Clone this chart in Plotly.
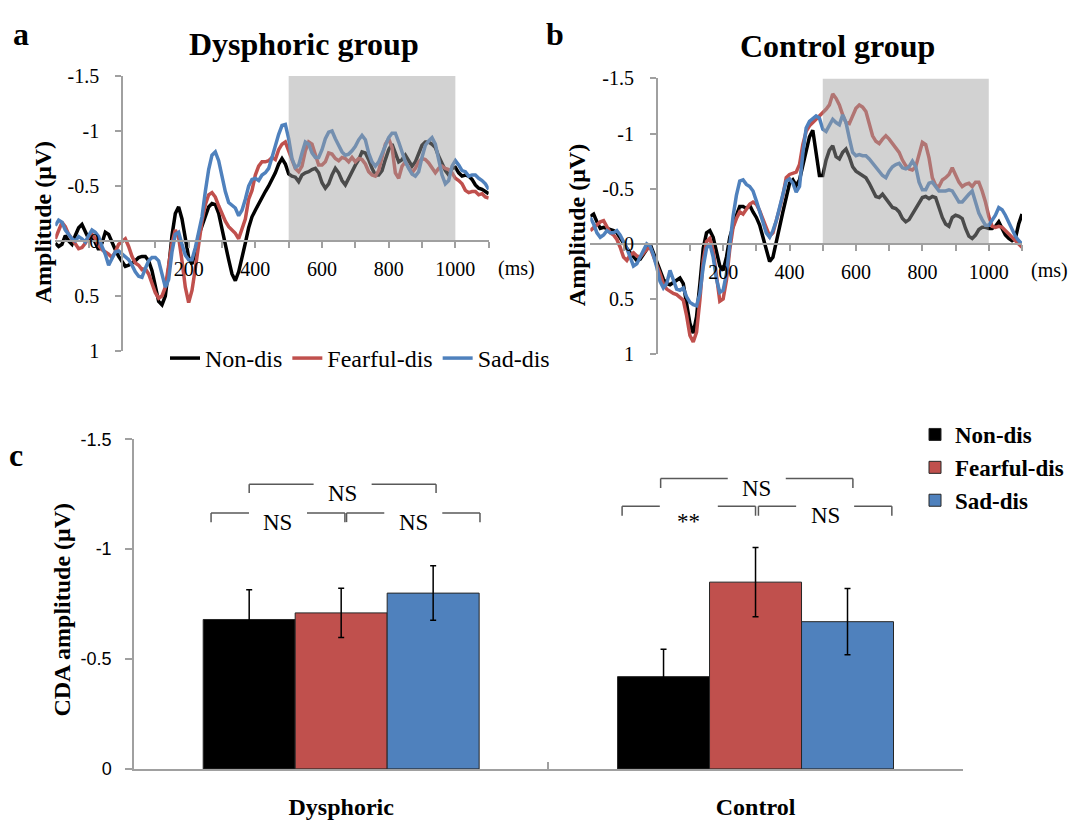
import plotly.graph_objects as go

# ---------------- data ----------------
time_ms = list(range(-200, 1101, 10))

# Panel a: Dysphoric group (amplitude, µV)
dys_non = [
    0.02, 0.05, 0.03, -0.05, 0.0, 0.03, -0.05, -0.12, -0.15, -0.08,
    -0.02, -0.05, 0.02, 0.08, 0.02, -0.08, -0.06, 0.02, 0.08, 0.14,
    0.18, 0.23, 0.22, 0.2, 0.18, 0.15, 0.14, 0.14, 0.18, 0.27,
    0.4, 0.55, 0.58, 0.5, 0.25, -0.05, -0.25, -0.31, -0.2, -0.02,
    0.15, 0.21, 0.1, -0.05, -0.14, -0.24, -0.31, -0.34, -0.33, -0.25,
    -0.1, 0.04, 0.17, 0.3, 0.36, 0.28, 0.16, 0.02, -0.12, -0.22,
    -0.28, -0.34, -0.4, -0.45, -0.5, -0.56, -0.62, -0.7, -0.75, -0.7,
    -0.61, -0.59, -0.58, -0.54, -0.6, -0.62, -0.63, -0.65, -0.66, -0.62,
    -0.53, -0.48, -0.52, -0.6, -0.66, -0.62, -0.55, -0.51, -0.57, -0.64,
    -0.69, -0.74, -0.81, -0.8, -0.74, -0.66, -0.6, -0.6, -0.64, -0.74,
    -0.83, -0.88, -0.8, -0.72, -0.74, -0.78, -0.73, -0.68, -0.72, -0.8,
    -0.87, -0.9, -0.9, -0.88, -0.85, -0.77, -0.7, -0.64, -0.6, -0.66,
    -0.67, -0.62, -0.59, -0.6, -0.59, -0.56, -0.51, -0.48, -0.47, -0.45,
    -0.43]
dys_fear = [
    -0.02, -0.1, -0.17, -0.13, -0.06, -0.02, 0.03, 0.07, 0.06, 0.02,
    -0.04, -0.06, -0.02, 0.04, 0.08, 0.1, 0.12, 0.15, 0.1, 0.03,
    0.0, -0.02, 0.05, 0.14, 0.2, 0.22, 0.26, 0.25, 0.3, 0.38,
    0.47, 0.52, 0.5, 0.42, 0.22, 0.02, -0.1, -0.03, 0.18, 0.42,
    0.56, 0.45, 0.25, 0.02, -0.18, -0.33, -0.42, -0.44, -0.4, -0.32,
    -0.25, -0.18, -0.13, -0.1, -0.07, -0.02, -0.1, -0.2, -0.38, -0.46,
    -0.6, -0.68, -0.72, -0.72, -0.73, -0.76, -0.74, -0.83, -0.88, -0.9,
    -0.82, -0.74, -0.66, -0.63, -0.68, -0.82, -0.9, -0.88, -0.78, -0.69,
    -0.69, -0.72, -0.8, -0.79, -0.75, -0.73, -0.76, -0.75, -0.72, -0.76,
    -0.72, -0.75, -0.74, -0.7, -0.63, -0.6, -0.59, -0.64, -0.76, -0.88,
    -0.93, -0.85, -0.62, -0.57, -0.68, -0.72, -0.67, -0.62, -0.66, -0.72,
    -0.75, -0.74, -0.71, -0.67, -0.62, -0.66, -0.68, -0.66, -0.65, -0.62,
    -0.57, -0.55, -0.52, -0.46, -0.44, -0.45, -0.45, -0.42, -0.43, -0.4,
    -0.39]
dys_sad = [
    -0.14, -0.19, -0.17, -0.1, -0.06, -0.02, 0.0, -0.04, -0.02, 0.01,
    -0.05, -0.1, -0.08, -0.04, 0.05, 0.12, 0.22, 0.15, 0.1, 0.09,
    0.12, 0.15, 0.17, 0.22, 0.28, 0.32, 0.33, 0.25, 0.18, 0.15,
    0.15, 0.18, 0.3, 0.42, 0.35, 0.1, -0.06, -0.08, 0.03, 0.13,
    0.17, 0.17, 0.06, -0.08, -0.22, -0.45, -0.65, -0.78, -0.81, -0.73,
    -0.58, -0.45, -0.35, -0.32, -0.3, -0.23, -0.28, -0.38, -0.5, -0.56,
    -0.57, -0.55, -0.6, -0.62, -0.66, -0.76, -0.88, -0.97, -1.05, -1.06,
    -0.93, -0.75, -0.67, -0.69, -0.8, -0.9, -0.88, -0.8, -0.76, -0.76,
    -0.83, -0.93, -0.99, -1.0, -0.93, -0.87, -0.81, -0.78, -0.79, -0.82,
    -0.86, -0.92, -0.96, -0.92, -0.8, -0.72, -0.68, -0.72, -0.8, -0.86,
    -0.94, -0.98, -0.98, -0.9, -0.8, -0.72, -0.66, -0.61, -0.59, -0.63,
    -0.76, -0.87, -0.91, -0.94, -0.88, -0.75, -0.6, -0.52, -0.55, -0.68,
    -0.73, -0.69, -0.64, -0.63, -0.59, -0.6, -0.6, -0.57, -0.55, -0.52,
    -0.47]

# Panel b: Control group (amplitude, µV)
ctl_non = [
    -0.25, -0.27, -0.2, -0.14, -0.15, -0.14, -0.13, -0.12, -0.1, -0.05,
    0.0, 0.04, 0.08, 0.12, 0.15, 0.14, 0.1, 0.05, 0.0, 0.08,
    0.17, 0.24, 0.32, 0.36, 0.37, 0.35, 0.33, 0.31, 0.36, 0.52,
    0.72, 0.81, 0.66, 0.36, 0.04, -0.1, -0.12, -0.06, 0.06, 0.2,
    0.24, 0.12, -0.06, -0.17, -0.26, -0.34, -0.34, -0.32, -0.35, -0.29,
    -0.24, -0.17, -0.06, 0.08, 0.16, 0.12, -0.03, -0.16, -0.29, -0.42,
    -0.55, -0.58, -0.53, -0.58, -0.7, -0.85, -0.97, -1.03, -0.8, -0.62,
    -0.62, -0.76, -0.85, -0.89, -0.79, -0.77, -0.83, -0.86, -0.79, -0.7,
    -0.66, -0.64, -0.62, -0.6, -0.55, -0.48, -0.43, -0.42, -0.45, -0.41,
    -0.37, -0.33, -0.32, -0.29, -0.23, -0.2, -0.22, -0.27, -0.31, -0.36,
    -0.42, -0.43, -0.41, -0.43, -0.42, -0.33, -0.24, -0.18, -0.16, -0.24,
    -0.26, -0.25, -0.23, -0.14, -0.07, -0.05, -0.08, -0.13, -0.15, -0.15,
    -0.14, -0.14, -0.16, -0.2, -0.14, -0.08, -0.05, -0.03, -0.05, -0.18,
    -0.27]
ctl_fear = [
    -0.12, -0.15, -0.18, -0.2, -0.21, -0.15, -0.1, -0.08, -0.04, 0.03,
    0.12, 0.15, 0.1, 0.08, 0.11, 0.12, 0.08, 0.05, 0.03, 0.1,
    0.19, 0.27, 0.36, 0.41, 0.43, 0.45, 0.46, 0.49, 0.51, 0.65,
    0.83, 0.89, 0.8, 0.51, 0.15, -0.02, -0.05, 0.06, 0.3, 0.52,
    0.5, 0.33, 0.05, -0.15, -0.23, -0.29, -0.27, -0.32, -0.36, -0.38,
    -0.36, -0.3, -0.22, -0.14, -0.07, -0.1, -0.2, -0.32, -0.44, -0.6,
    -0.63, -0.64, -0.65, -0.72, -0.9, -1.02, -1.07, -1.1, -1.13, -1.15,
    -1.19, -1.22, -1.26, -1.36, -1.32, -1.26, -1.17, -1.1, -1.09, -1.16,
    -1.23, -1.26, -1.24, -1.2, -1.08, -0.98, -0.93, -0.91, -0.95, -0.98,
    -0.95, -0.91, -0.88, -0.83, -0.76, -0.71, -0.68, -0.67, -0.7, -0.8,
    -0.92, -0.9, -0.78, -0.6, -0.53, -0.52, -0.58, -0.6, -0.63, -0.69,
    -0.62, -0.56, -0.52, -0.54, -0.55, -0.52, -0.56, -0.56, -0.48, -0.38,
    -0.25, -0.16, -0.15, -0.16, -0.15, -0.12, -0.09, -0.06, -0.02, 0.01,
    0.03]
ctl_sad = [
    -0.24, -0.18, -0.1, -0.06, -0.08, -0.12, -0.1, -0.1, -0.12, -0.08,
    -0.02, 0.04, 0.12, 0.2, 0.18, 0.12, 0.06, 0.0, 0.02, 0.1,
    0.21, 0.34, 0.4, 0.36, 0.24, 0.33, 0.41, 0.42, 0.4, 0.48,
    0.53, 0.55, 0.56, 0.45, 0.21, 0.04, 0.0, 0.12, 0.32, 0.44,
    0.42, 0.27, 0.0, -0.25, -0.44, -0.57, -0.58, -0.54, -0.52, -0.48,
    -0.39, -0.3, -0.2, -0.1, -0.06, -0.12, -0.21, -0.32, -0.45, -0.57,
    -0.59, -0.55, -0.47, -0.52, -0.82, -1.05, -1.11, -1.14, -1.16, -1.14,
    -1.04, -1.02, -1.08, -1.13, -1.1, -1.08, -1.17, -1.1, -0.96, -0.83,
    -0.8, -0.81, -0.8, -0.8, -0.77, -0.73, -0.69, -0.65, -0.62, -0.6,
    -0.66, -0.7, -0.72, -0.73, -0.69, -0.68, -0.7, -0.75, -0.7, -0.56,
    -0.49, -0.49, -0.55, -0.56, -0.52, -0.48, -0.48, -0.48, -0.49, -0.48,
    -0.43, -0.38, -0.38, -0.42, -0.45, -0.48, -0.38, -0.28, -0.22, -0.17,
    -0.17, -0.21, -0.26, -0.33, -0.31, -0.26, -0.2, -0.13, -0.07, -0.03,
    0.0]

conditions = ["Non-dis", "Fearful-dis", "Sad-dis"]
groups = ["Dysphoric", "Control"]
cda_non = [-0.68, -0.42]
cda_fear = [-0.71, -0.85]
cda_sad = [-0.80, -0.67]
sem_non = [0.135, 0.125]
sem_fear = [0.112, 0.157]
sem_sad = [0.124, 0.151]

x_tick_vals = list(range(-100, 1101, 100))
x_tick_labels = ["", "", "", "200", "", "400", "", "600", "", "800", "", "1000", ""]
erp_y_vals = [-1.5, -1, -0.5, 0, 0.5, 1]
erp_y_labels = ["-1.5", "-1", "-0.5", "0", "0.5", "1"]
cda_y_vals = [0, -0.5, -1, -1.5]
cda_y_labels = ["0", "-0.5", "-1", "-1.5"]

# ---------------- styling ----------------
W, H = 1072, 825
SERIF = "Liberation Serif"
SANS = "Liberation Sans"
COLORS = ["#000000", "#C0504D", "#4F81BD"]
AXC = "#a0a0a0"
SHADE_WINDOW = (500, 1000)


def pxx(x):
    return x / W


def pxy(y):
    return 1 - y / H


fig = go.Figure()

# ERP waveforms
for series, name, col in zip([dys_non, dys_fear, dys_sad], conditions, COLORS):
    fig.add_trace(go.Scatter(x=time_ms, y=series, mode="lines", name=name,
                             line=dict(color=col, width=3.5),
                             xaxis="x", yaxis="y", legend="legend"))
for series, name, col in zip([ctl_non, ctl_fear, ctl_sad], conditions, COLORS):
    fig.add_trace(go.Scatter(x=time_ms, y=series, mode="lines", name=name,
                             line=dict(color=col, width=3.5), showlegend=False,
                             xaxis="x2", yaxis="y2"))

# CDA bars
for vals, errs, name, col in zip([cda_non, cda_fear, cda_sad],
                                 [sem_non, sem_fear, sem_sad], conditions, COLORS):
    fig.add_trace(go.Bar(x=groups, y=vals, name=name,
                         marker=dict(color=col, line=dict(color="#262626", width=1)),
                         error_y=dict(type="data", array=errs, symmetric=True,
                                      color="black", thickness=1.5, width=3),
                         xaxis="x3", yaxis="y3", legend="legend2"))

tickfont_erp = dict(family=SERIF, size=20, color="black")


def erp_xaxis(x0, x1, ypos):
    return dict(domain=[pxx(x0), pxx(x1)], range=[-200, 1100], anchor="free",
                position=pxy(ypos), showline=True, linecolor=AXC, linewidth=1.5,
                ticks="outside", ticklen=6, tickwidth=1.5, tickcolor=AXC,
                tickvals=x_tick_vals, ticktext=x_tick_labels, tickfont=tickfont_erp,
                ticklabelstandoff=4, showgrid=False, zeroline=False, fixedrange=True)


def erp_yaxis(ytop, ybot, xpos):
    return dict(domain=[pxy(ybot), pxy(ytop)], range=[1, -1.5], anchor="free",
                position=pxx(xpos), showline=True, linecolor=AXC, linewidth=1.5,
                ticks="outside", ticklen=6, tickwidth=1.5, tickcolor=AXC,
                tickvals=erp_y_vals, ticktext=erp_y_labels, tickfont=tickfont_erp,
                ticklabelstandoff=12, showgrid=False, zeroline=False, fixedrange=True)


layout = dict(
    width=W, height=H, margin=dict(l=0, r=0, t=0, b=0),
    paper_bgcolor="white", plot_bgcolor="white",
    font=dict(family=SERIF, color="black"),
    barmode="group", bargap=0.334, bargroupgap=0,
    xaxis=erp_xaxis(55.3, 488.7, 236.3),
    yaxis=erp_yaxis(66.8, 349.3, 122.0),
    xaxis2=erp_xaxis(590.3, 1022.0, 239.3),
    yaxis2=erp_yaxis(69.3, 352.6, 656.7),
    xaxis3=dict(domain=[pxx(134), pxx(962.7)], anchor="y3", type="category",
                showline=True, linecolor=AXC, linewidth=1.5, ticks="inside",
                tickson="boundaries", ticklen=7, tickwidth=1.5, tickcolor=AXC,
                tickfont=dict(family=SERIF, size=24, color="black", weight="bold"),
                ticklabelstandoff=16, showgrid=False, zeroline=False),
    yaxis3=dict(domain=[pxy(778.7), pxy(440)], anchor="x3", range=[0, -1.5],
                showline=True, linecolor=AXC, linewidth=1.5, ticks="outside",
                ticklen=7, tickwidth=1.5, tickcolor=AXC, tickvals=cda_y_vals,
                ticktext=cda_y_labels, tickfont=dict(family=SANS, size=18, color="black"),
                ticklabelstandoff=10, showgrid=False, zeroline=False),
    legend=dict(orientation="h", x=pxx(165), y=pxy(357), xanchor="left", yanchor="middle",
                font=dict(family=SERIF, size=24, color="black"),
                bgcolor="rgba(0,0,0,0)", itemwidth=30),
    legend2=dict(x=pxx(915), y=pxy(469), xanchor="left", yanchor="middle",
                 font=dict(family=SERIF, size=23, color="black", weight="bold"),
                 bgcolor="rgba(0,0,0,0)", tracegroupgap=0),
)
fig.update_layout(**layout)

# shaded CDA analysis windows (drawn above the waveforms, semi-transparent)
shapes = []
for xr, yr in [("x", "y"), ("x2", "y2")]:
    shapes.append(dict(type="rect", xref=xr, yref=yr, x0=SHADE_WINDOW[0], x1=SHADE_WINDOW[1],
                       y0=0, y1=-1.5, fillcolor="rgba(160,160,160,0.47)",
                       line=dict(width=0), layer="above"))

# significance brackets: (group index, start offset, end offset, line level, tick end, label)
BRACKETS = [
    (0, -0.222, 0.229, -1.295, -1.255, "NS"),
    (0, -0.314, 0.009, -1.165, -1.123, "NS"),
    (0, 0.013, 0.335, -1.165, -1.123, "NS"),
    (1, -0.229, 0.235, -1.322, -1.278, "NS"),
    (1, -0.322, 0.0, -1.195, -1.152, "**"),
    (1, 0.007, 0.329, -1.195, -1.152, "NS"),
]
GAP = 0.07
BR_LINE = dict(color="#595959", width=1.5)
annotations = []
for g, a0, a1, yl, yt, lab in BRACKETS:
    xa, xb = g + a0, g + a1
    xm = (xa + xb) / 2
    segs = [(xa, yt, xa, yl), (xa, yl, xm - GAP, yl), (xm + GAP, yl, xb, yl), (xb, yl, xb, yt)]
    for x0, y0, x1, y1 in segs:
        shapes.append(dict(type="line", xref="x3", yref="y3", x0=x0, y0=y0, x1=x1, y1=y1,
                           line=BR_LINE))
    annotations.append(dict(x=xm, y=(yt + 0.025 if lab == "**" else yt), xref="x3", yref="y3",
                            text=lab, showarrow=False, xanchor="center", yanchor="middle",
                            font=dict(family=SERIF, size=23, color="black")))


def add_text(text, x, y, size, bold=True, angle=0):
    annotations.append(dict(x=pxx(x), y=pxy(y), xref="paper", yref="paper",
                            text=f"<b>{text}</b>" if bold else text, showarrow=False,
                            xanchor="center", yanchor="middle", textangle=angle,
                            font=dict(family=SERIF, size=size, color="black")))


add_text("a", 21, 24, 32)
add_text("b", 555, 24, 32)
add_text("c", 16, 456, 32)
add_text("Dysphoric group", 304, 34, 32)
add_text("Control group", 837, 36, 32)
add_text("Amplitude (μV)", 43, 217, 24, angle=-90)
add_text("Amplitude (μV)", 577, 220, 24, angle=-90)
add_text("CDA amplitude (μV)", 62, 615, 24, angle=-90)
add_text("(ms)", 516, 265, 20, bold=False)
add_text("(ms)", 1049, 267, 20, bold=False)

fig.update_layout(shapes=shapes, annotations=annotations)
fig.write_html("out.html")
